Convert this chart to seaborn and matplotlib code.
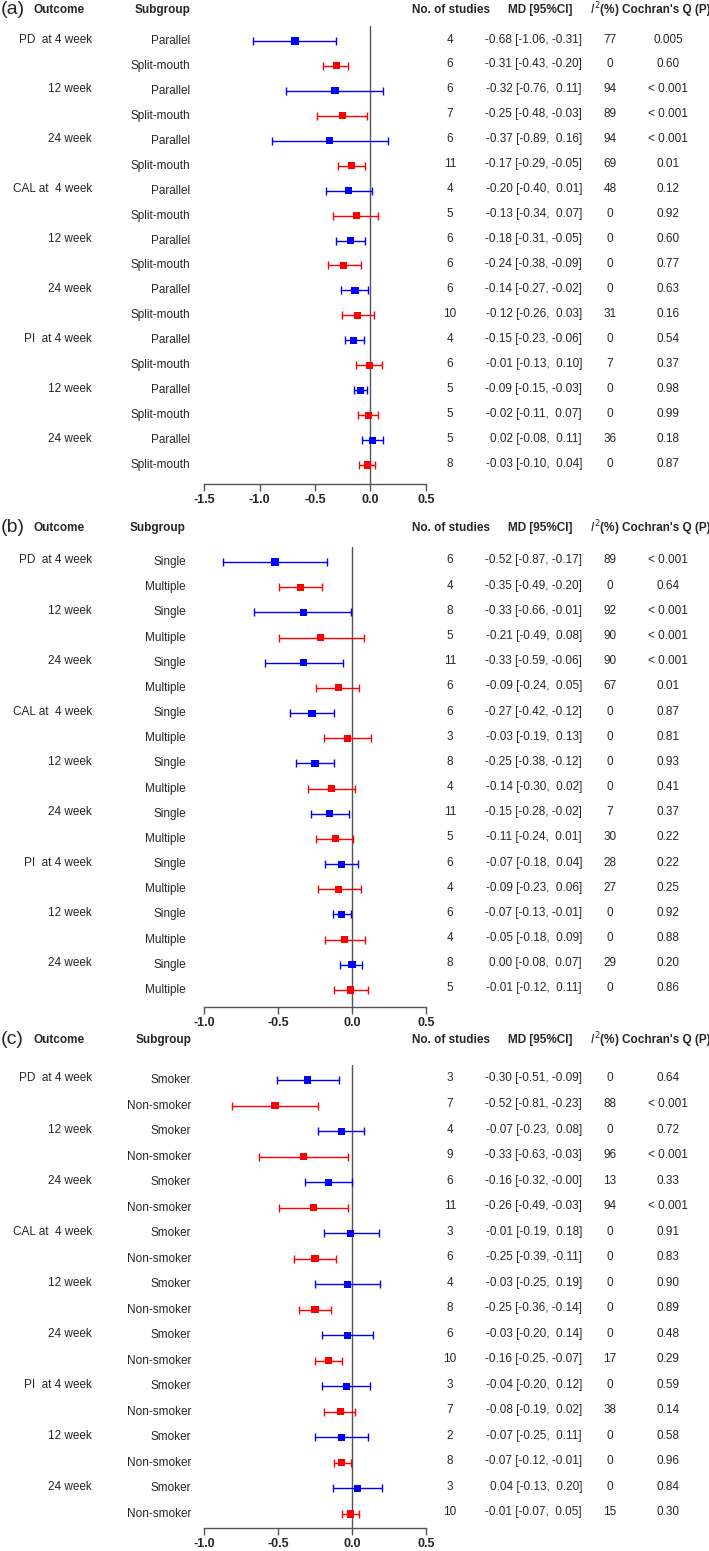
import numpy as np
import pandas as pd
import matplotlib
matplotlib.use("Agg")
import matplotlib.pyplot as plt
import matplotlib.transforms as mtransforms
import seaborn as sns

# ---- data ----
outcomes = ["PD  at 4 week", "12 week", "24 week",
            "CAL at  4 week", "12 week", "24 week",
            "PI  at 4 week", "12 week", "24 week"]

# panel (a): study design
a_groups = ["Parallel", "Split-mouth"]
a_md = [-0.68, -0.31, -0.32, -0.25, -0.37, -0.17, -0.20, -0.13, -0.18,
        -0.24, -0.14, -0.12, -0.15, -0.01, -0.09, -0.02, 0.02, -0.03]
a_lo = [-1.06, -0.43, -0.76, -0.48, -0.89, -0.29, -0.40, -0.34, -0.31,
        -0.38, -0.27, -0.26, -0.23, -0.13, -0.15, -0.11, -0.08, -0.10]
a_hi = [-0.31, -0.20, 0.11, -0.03, 0.16, -0.05, 0.01, 0.07, -0.05,
        -0.09, -0.02, 0.03, -0.06, 0.10, -0.03, 0.07, 0.11, 0.04]
a_n = [4, 6, 6, 7, 6, 11, 4, 5, 6, 6, 6, 10, 4, 6, 5, 5, 5, 8]
a_i2 = [77, 0, 94, 89, 94, 69, 48, 0, 0, 0, 0, 31, 0, 7, 0, 0, 36, 0]
a_q = ["0.005", "0.60", "< 0.001", "< 0.001", "< 0.001", "0.01", "0.12", "0.92", "0.60",
       "0.77", "0.63", "0.16", "0.54", "0.37", "0.98", "0.99", "0.18", "0.87"]

# panel (b): number of applications
b_groups = ["Single", "Multiple"]
b_md = [-0.52, -0.35, -0.33, -0.21, -0.33, -0.09, -0.27, -0.03, -0.25,
        -0.14, -0.15, -0.11, -0.07, -0.09, -0.07, -0.05, 0.00, -0.01]
b_lo = [-0.87, -0.49, -0.66, -0.49, -0.59, -0.24, -0.42, -0.19, -0.38,
        -0.30, -0.28, -0.24, -0.18, -0.23, -0.13, -0.18, -0.08, -0.12]
b_hi = [-0.17, -0.20, -0.01, 0.08, -0.06, 0.05, -0.12, 0.13, -0.12,
        0.02, -0.02, 0.01, 0.04, 0.06, -0.01, 0.09, 0.07, 0.11]
b_n = [6, 4, 8, 5, 11, 6, 6, 3, 8, 4, 11, 5, 6, 4, 6, 4, 8, 5]
b_i2 = [89, 0, 92, 90, 90, 67, 0, 0, 0, 0, 7, 30, 28, 27, 0, 0, 29, 0]
b_q = ["< 0.001", "0.64", "< 0.001", "< 0.001", "< 0.001", "0.01", "0.87", "0.81", "0.93",
       "0.41", "0.37", "0.22", "0.22", "0.25", "0.92", "0.88", "0.20", "0.86"]

# panel (c): smoking status
c_groups = ["Smoker", "Non-smoker"]
c_md = [-0.30, -0.52, -0.07, -0.33, -0.16, -0.26, -0.01, -0.25, -0.03,
        -0.25, -0.03, -0.16, -0.04, -0.08, -0.07, -0.07, 0.04, -0.01]
c_lo = [-0.51, -0.81, -0.23, -0.63, -0.32, -0.49, -0.19, -0.39, -0.25,
        -0.36, -0.20, -0.25, -0.20, -0.19, -0.25, -0.12, -0.13, -0.07]
c_hi = [-0.09, -0.23, 0.08, -0.03, -0.00, -0.03, 0.18, -0.11, 0.19,
        -0.14, 0.14, -0.07, 0.12, 0.02, 0.11, -0.01, 0.20, 0.05]
c_n = [3, 7, 4, 9, 6, 11, 3, 6, 4, 8, 6, 10, 3, 7, 2, 8, 3, 10]
c_i2 = [0, 88, 0, 96, 13, 94, 0, 0, 0, 0, 0, 17, 0, 38, 0, 0, 0, 15]
c_q = ["0.64", "< 0.001", "0.72", "< 0.001", "0.33", "< 0.001", "0.91", "0.83", "0.90",
       "0.89", "0.48", "0.29", "0.59", "0.14", "0.58", "0.96", "0.84", "0.30"]

panels = [
    ("(a)", a_groups, a_md, a_lo, a_hi, a_n, a_i2, a_q, [-1.5, -1.0, -0.5, 0.0, 0.5]),
    ("(b)", b_groups, b_md, b_lo, b_hi, b_n, b_i2, b_q, [-1.0, -0.5, 0.0, 0.5]),
    ("(c)", c_groups, c_md, c_lo, c_hi, c_n, c_i2, c_q, [-1.0, -0.5, 0.0, 0.5]),
]

# pixel layout per panel: header y, first row y, last row y, axis line y
layout = [(8, 41, 465, 484), (526, 562, 990, 1007), (1038, 1080, 1514, 1528)]
subgroup_right = [190, 186, 191]

# ---- style ----
sns.set_theme(style="white")
plt.rcParams["font.family"] = ["Liberation Sans Narrow", "Liberation Sans", "DejaVu Sans"]
colors = {0: "#0000FF", 1: "#FF0000"}

W, H = 709, 1551
fig = plt.figure(figsize=(W / 100, H / 100), dpi=100)

def fx(px):
    return px / W

def fy(px):
    return 1 - px / H

fs = 8.5

for (tag, groups, md, lo, hi, n, i2, q, ticks), (hdr, row0, rowN, axis_px), sg_x in zip(panels, layout, subgroup_right):
    sp = (rowN - row0) / (len(md) - 1)
    ymax = (axis_px - row0) / sp
    ymin = -0.6
    ax_top = row0 + ymin * sp
    ax = fig.add_axes([fx(204), fy(axis_px), fx(426) - fx(204), (axis_px - ax_top) / H])

    df = pd.DataFrame({
        "row": np.arange(len(md)),
        "md": md, "lo": lo, "hi": hi,
        "grp": [i % 2 for i in range(len(md))],
    })

    ax.axvline(0, color="#555555", lw=1.0, zorder=1)
    for g, sub in df.groupby("grp"):
        ax.errorbar(sub["md"], sub["row"],
                    xerr=[sub["md"] - sub["lo"], sub["hi"] - sub["md"]],
                    fmt="none", ecolor=colors[g], elinewidth=1.0,
                    capsize=3, capthick=1.0, zorder=2)
    sns.scatterplot(data=df, x="md", y="row", hue="grp", palette=colors,
                    marker="s", s=26, linewidth=0, legend=False, ax=ax, zorder=3)

    ax.set_xlim(ticks[0], ticks[-1])
    ax.set_ylim(ymax, ymin)
    ax.set_xticks(ticks)
    ax.set_xticklabels([f"{t:.1f}" for t in ticks], fontweight="bold", fontsize=fs + 0.5)
    ax.set_yticks([])
    ax.set_xlabel("")
    ax.set_ylabel("")
    for s in ["top", "right", "left"]:
        ax.spines[s].set_visible(False)
    ax.spines["bottom"].set_color("#555555")
    ax.spines["bottom"].set_linewidth(1.0)
    ax.tick_params(axis="x", direction="out", length=5, width=1.0,
                   color="#555555", pad=2, bottom=True)
    ax.patch.set_alpha(0)

    # header row
    hy = fy(hdr + 2)
    fig.text(fx(1), fy(hdr + 1), tag, fontsize=14, ha="left", va="center")
    fig.text(fx(34), hy, "Outcome", fontsize=fs, fontweight="bold", ha="left", va="center")
    fig.text(fx(sg_x), hy, "Subgroup", fontsize=fs, fontweight="bold", ha="right", va="center")
    fig.text(fx(451), hy, "No. of studies", fontsize=fs, fontweight="bold", ha="center", va="center")
    fig.text(fx(540), hy, "MD [95%CI]", fontsize=fs, fontweight="bold", ha="center", va="center")
    fig.text(fx(605), hy, r"$\mathit{I}^{2}$(%)", fontsize=fs, fontweight="bold", ha="center", va="center")
    fig.text(fx(666), hy, "Cochran's Q (P)", fontsize=fs, fontweight="bold", ha="center", va="center")

    tr = mtransforms.blended_transform_factory(fig.transFigure, ax.transData)
    for i in range(len(md)):
        if i % 2 == 0:
            ax.text(fx(92), i - 0.06, outcomes[i // 2], transform=tr, fontsize=fs,
                    ha="right", va="center")
        ax.text(fx(sg_x), i, groups[i % 2], transform=tr, fontsize=fs, ha="right", va="center")
        ax.text(fx(450), i - 0.06, str(n[i]), transform=tr, fontsize=fs, ha="center", va="center")
        ci = f"{md[i]:.2f} [{lo[i]:.2f}, {hi[i]:5.2f}]"
        ax.text(fx(582), i - 0.06, ci, transform=tr, fontsize=fs, ha="right", va="center")
        ax.text(fx(610), i - 0.06, str(i2[i]), transform=tr, fontsize=fs, ha="center", va="center")
        ax.text(fx(668), i - 0.06, q[i], transform=tr, fontsize=fs, ha="center", va="center")

fig.savefig("out.png", dpi=100, facecolor="white")
